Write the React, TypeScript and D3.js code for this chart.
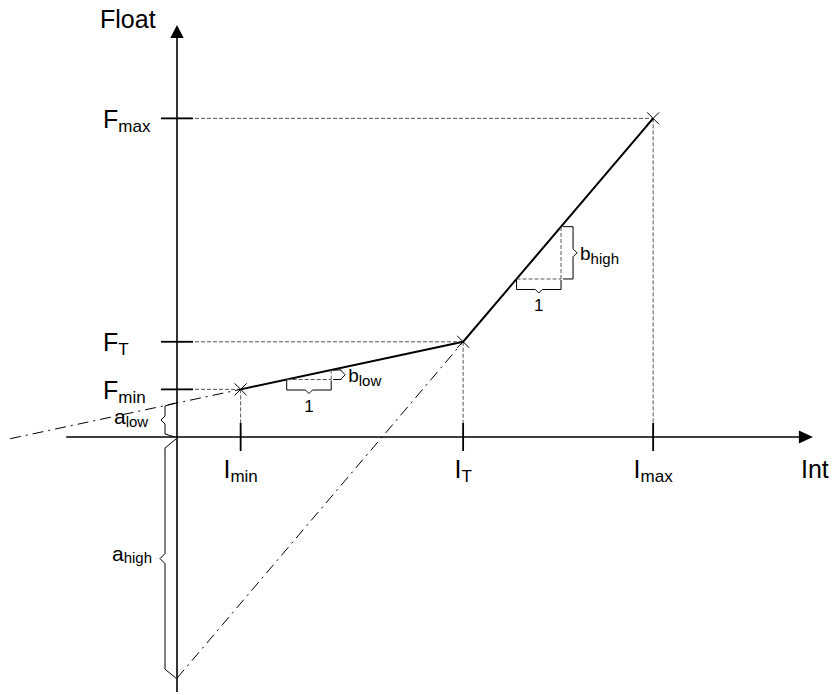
import React from "react";
import * as d3 from "d3";

// Piecewise-linear Int -> Float mapping: three knots (min, T, max)
const knotSubs = ["min", "T", "max"];
const intKnots = [1.43, 6.43, 10.7];
const floatKnots = [1.07, 2.14, 7.16];

// Segment names and where each unit-run slope triangle starts (Int units)
const segmentNames = ["low", "high"];
const slopeRunStart = [2.465, 7.63];

// Axis extents (Int / Float units)
const intAxisExtent = [-2.49, 14.29];
const floatAxisExtent = [-5.73, 9.26];
const lowExtensionStart = -3.75;

const W = 834;
const H = 695;
const FONT = "'Liberation Sans', Arial, Helvetica, sans-serif";
const GUIDE = "#555";

type LabelProps = {
  x: number;
  y: number;
  main: string;
  sub: string;
  size: number;
  subSize: number;
  anchor?: "start" | "middle" | "end";
  dy?: number;
};

function Label({ x, y, main, sub, size, subSize, anchor = "start", dy = 4 }: LabelProps) {
  return (
    <text x={x} y={y} fontFamily={FONT} fontSize={size} textAnchor={anchor} fill="#000">
      <tspan>{main}</tspan>
      <tspan fontSize={subSize} dy={dy}>
        {sub}
      </tspan>
    </text>
  );
}

// vertical brace, nip pointing left (dir=-1) or right (dir=1); ends hook the other way
function vBrace(bx: number, y0: number, y1: number, dir: number, hook: number, hs: number, nip: number) {
  const ym = (y0 + y1) / 2;
  const nv = Math.min(nip, (y1 - y0) / 2 - hs - 0.5);
  return `M${bx - dir * hook},${y0} L${bx},${y0 + hs} V${ym - nv} L${bx + dir * nip},${ym} L${bx},${ym + nv} V${y1 - hs} L${bx - dir * hook},${y1}`;
}

// horizontal brace below a run, nip pointing down
function hBrace(x0: number, x1: number, top: number, depth: number, nip: number) {
  const xm = (x0 + x1) / 2;
  const yb = top + depth;
  return `M${x0},${top} V${yb} H${xm - nip} L${xm},${yb + nip} L${xm + nip},${yb} H${x1} V${top}`;
}

export default function App() {
  const x = d3.scaleLinear().domain([0, 1]).range([177, 177 + 44.5]);
  const y = d3.scaleLinear().domain([0, 1]).range([437, 437 - 44.5]);

  const pts: [number, number][] = intKnots.map((v, i) => [v, floatKnots[i]]);
  const slopes = [0, 1].map((i) => (floatKnots[i + 1] - floatKnots[i]) / (intKnots[i + 1] - intKnots[i]));
  const intercepts = [0, 1].map((i) => floatKnots[i] - slopes[i] * intKnots[i]);

  const line = d3
    .line<[number, number]>()
    .x((d) => x(d[0]))
    .y((d) => y(d[1]));

  const x0 = x(0);
  const y0 = y(0);

  const lowExt: [number, number][] = [
    [lowExtensionStart, intercepts[0] + slopes[0] * lowExtensionStart],
    pts[0],
  ];
  const highExt: [number, number][] = [[0, intercepts[1]], pts[1]];

  return (
    <svg
      width={W}
      height={H}
      viewBox={`0 0 ${W} ${H}`}
      style={{ position: "absolute", left: 0, top: 0, background: "#fff" }}
    >
      <rect width={W} height={H} fill="#fff" />

      {/* guide lines from knots to axes */}
      {pts.map((p, i) => (
        <g key={"g" + i} stroke={GUIDE} strokeWidth={1} strokeDasharray="4 2" fill="none">
          <line x1={x0} y1={y(p[1])} x2={x(p[0])} y2={y(p[1])} />
          <line x1={x(p[0])} y1={y(p[1])} x2={x(p[0])} y2={y0} />
        </g>
      ))}

      {/* dash-dot extensions to the Float axis */}
      <path d={line(lowExt) || ""} stroke="#000" strokeWidth={1} fill="none" strokeDasharray="11 5 2 5" />
      <path d={line(highExt) || ""} stroke="#000" strokeWidth={1} fill="none" strokeDasharray="11 5 2 5" />

      {/* axes */}
      <line x1={x(intAxisExtent[0])} y1={y0} x2={x(intAxisExtent[1]) - 10} y2={y0} stroke="#000" strokeWidth={1.6} />
      <path d={`M${x(intAxisExtent[1])},${y0} L${x(intAxisExtent[1]) - 14},${y0 - 6.5} L${x(intAxisExtent[1]) - 14},${y0 + 6.5} Z`} fill="#000" />
      <line x1={x0} y1={y(floatAxisExtent[0])} x2={x0} y2={y(floatAxisExtent[1]) + 10} stroke="#000" strokeWidth={1.6} />
      <path d={`M${x0},${y(floatAxisExtent[1])} L${x0 - 6.7},${y(floatAxisExtent[1]) + 13} L${x0 + 6.7},${y(floatAxisExtent[1]) + 13} Z`} fill="#000" />

      {/* ticks */}
      {pts.map((p, i) => (
        <g key={"t" + i} stroke="#000" strokeWidth={1.8}>
          <line x1={x(p[0])} y1={y0 - 14} x2={x(p[0])} y2={y0 + 14} />
          <line x1={x0 - 16} y1={y(p[1])} x2={x0 + 16} y2={y(p[1])} />
        </g>
      ))}

      {/* mapping */}
      <path d={line(pts) || ""} stroke="#000" strokeWidth={2} fill="none" strokeLinejoin="round" />

      {/* knot markers */}
      {pts.map((p, i) => (
        <path
          key={"m" + i}
          d={`M${x(p[0]) - 6},${y(p[1]) - 6} L${x(p[0]) + 6},${y(p[1]) + 6} M${x(p[0]) - 6},${y(p[1]) + 6} L${x(p[0]) + 6},${y(p[1]) - 6}`}
          stroke="#000"
          strokeWidth={1}
        />
      ))}

      {/* slope triangles: unit run, rise = slope */}
      {segmentNames.map((name, i) => {
        const s = slopeRunStart[i];
        const fs = intercepts[i] + slopes[i] * s;
        const fe = intercepts[i] + slopes[i] * (s + 1);
        const xa = x(s);
        const xb = x(s + 1);
        const ya = y(fs);
        const yb = y(fe);
        const sideX = xb + (i === 0 ? 10 : 12);
        return (
          <g key={"s" + i}>
            <g stroke={GUIDE} strokeWidth={1} strokeDasharray="4 2" fill="none">
              <line x1={xa} y1={ya} x2={xb} y2={ya} />
              <line x1={xb} y1={ya} x2={xb} y2={yb} />
            </g>
            <path d={hBrace(xa, xb, ya + 1, 9.5, 3.5)} stroke="#000" strokeWidth={1} fill="none" />
            <text x={(xa + xb) / 2} y={ya + 1 + 9.5 + 22} fontFamily={FONT} fontSize={17} textAnchor="middle">
              1
            </text>
            <path d={vBrace(sideX, yb, ya, 1, sideX - xb - 2, 0, 4)} stroke="#000" strokeWidth={1} fill="none" />
            <Label
              x={sideX + 7}
              y={(ya + yb) / 2 + 7}
              main="b"
              sub={name}
              size={19}
              subSize={15}
              dy={4}
            />
          </g>
        );
      })}

      {/* intercept braces */}
      <path d={vBrace(x0 - 12, y(intercepts[0]), y0, -1, 10, 3, 4)} stroke="#000" strokeWidth={1} fill="none" />
      <Label x={114} y={(y(intercepts[0]) + y0) / 2 + 3.5} main="a" sub={segmentNames[0]} size={21} subSize={15} dy={3.5} />
      <path d={vBrace(x0 - 12, y0 + 2, y(intercepts[1]), -1, 11, 9, 5)} stroke="#000" strokeWidth={1} fill="none" />
      <Label x={112} y={(y0 + y(intercepts[1])) / 2 + 3} main="a" sub={segmentNames[1]} size={21} subSize={15} dy={2} />

      {/* knot labels */}
      {pts.map((p, i) => (
        <g key={"l" + i}>
          <Label x={103} y={y(p[1]) + 9.5} main="F" sub={knotSubs[i]} size={25} subSize={17} dy={4} />
          <Label x={x(p[0])} y={478} main="I" sub={knotSubs[i]} size={25} subSize={17} dy={4} anchor="middle" />
        </g>
      ))}

      {/* axis titles */}
      <text x={100} y={28} fontFamily={FONT} fontSize={25}>
        Float
      </text>
      <text x={801} y={478} fontFamily={FONT} fontSize={25}>
        Int
      </text>
    </svg>
  );
}
